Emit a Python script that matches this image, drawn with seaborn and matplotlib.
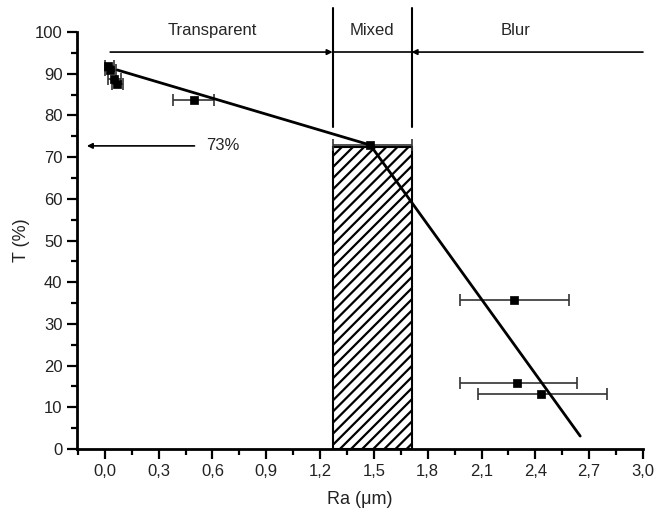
import matplotlib
matplotlib.use("Agg")
import matplotlib.pyplot as plt
import seaborn as sns
import pandas as pd
import numpy as np
from matplotlib.ticker import MultipleLocator, FuncFormatter

# ---- data ----
ra = [0.02, 0.03, 0.05, 0.07, 0.50, 1.48, 2.28, 2.30, 2.43]
t = [91.8, 90.8, 88.8, 87.6, 83.7, 72.9, 35.7, 15.8, 13.2]
ra_err_lo = [0.02, 0.03, 0.03, 0.03, 0.12, 0.21, 0.30, 0.32, 0.35]
ra_err_hi = [0.03, 0.03, 0.04, 0.03, 0.11, 0.23, 0.31, 0.33, 0.37]
fit_x = [0.07, 1.48, 2.65]
fit_y = [90.9, 72.9, 3.1]
mixed_left = 1.27
mixed_right = 1.71
mixed_height = 72.5
zone_labels = ["Transparent", "Mixed", "Blur"]
zone_label_x = [0.60, 1.49, 2.29]
threshold_label = "73%"
threshold_value = 72.7

df = pd.DataFrame({"Ra": ra, "T": t})
fit_df = pd.DataFrame({"Ra": fit_x, "T": fit_y})

sns.set_style("ticks")
plt.rcParams["font.family"] = ["Liberation Sans", "DejaVu Sans"]
plt.rcParams["font.size"] = 11
plt.rcParams["hatch.linewidth"] = 1.6

fig = plt.figure(figsize=(6.62, 5.17), dpi=100)
ax = fig.add_axes([0.1163, 0.1315, 0.8550, 0.8065])

# hatched mixed region bar
ax.bar([(mixed_left + mixed_right) / 2], [mixed_height], width=mixed_right - mixed_left,
       facecolor="white", edgecolor="black", linewidth=1.5, hatch="///", zorder=1)

# fit line
sns.lineplot(data=fit_df, x="Ra", y="T", sort=False, color="black", linewidth=2,
             ax=ax, zorder=3)

# error bars and markers
ax.errorbar(ra, t, xerr=[ra_err_lo, ra_err_hi], fmt="none", ecolor="#333333",
            elinewidth=1.2, capsize=4, capthick=1.2, zorder=2)
sns.scatterplot(data=df, x="Ra", y="T", marker="s", color="black", s=40,
                edgecolor="black", ax=ax, zorder=4)

ax.set_xlim(-0.155, 3.0)
ax.set_ylim(0, 100)

# zone boundaries
for xb in (mixed_left, mixed_right):
    ax.plot([xb, xb], [77.3, 105.8], color="black", lw=1.5, clip_on=False)

arrow_y = 95.2
ap = dict(arrowstyle="-|>", color="black", lw=1.2, mutation_scale=8,
          shrinkA=0, shrinkB=0)
ax.annotate("", xy=(mixed_left, arrow_y), xytext=(0.03, arrow_y), arrowprops=ap,
            annotation_clip=False)
ax.plot([mixed_left, mixed_right], [arrow_y, arrow_y], color="black", lw=1.2)
ax.annotate("", xy=(mixed_right, arrow_y), xytext=(3.0, arrow_y), arrowprops=ap,
            annotation_clip=False)

for lab, lx in zip(zone_labels, zone_label_x):
    ax.text(lx, 100.3, lab, ha="center", va="center", fontsize=12, clip_on=False)

# 73% arrow
ax.annotate("", xy=(-0.10, threshold_value), xytext=(0.5, threshold_value),
            arrowprops=ap)
ax.text(0.66, threshold_value, threshold_label, ha="center", va="center", fontsize=12)

# axes styling
ax.xaxis.set_major_locator(MultipleLocator(0.3))
ax.xaxis.set_minor_locator(MultipleLocator(0.15))
ax.yaxis.set_major_locator(MultipleLocator(10))
ax.yaxis.set_minor_locator(MultipleLocator(5))
ax.xaxis.set_major_formatter(FuncFormatter(lambda v, p: f"{v:.1f}".replace(".", ",")))
ax.yaxis.set_major_formatter(FuncFormatter(lambda v, p: f"{v:.0f}"))
ax.tick_params(which="major", length=7, width=1.6, labelsize=12, direction="out",
               color="black", labelcolor="#222222")
ax.tick_params(which="minor", length=4, width=1.6, direction="out", color="black")
sns.despine(ax=ax)
for s in ("left", "bottom"):
    ax.spines[s].set_linewidth(2)
    ax.spines[s].set_color("black")

ax.set_xlabel("Ra (μm)", fontsize=13, color="#222222", labelpad=9)
ax.set_ylabel("T (%)", fontsize=13, color="#222222", labelpad=3)

fig.savefig("out.png", dpi=100)
